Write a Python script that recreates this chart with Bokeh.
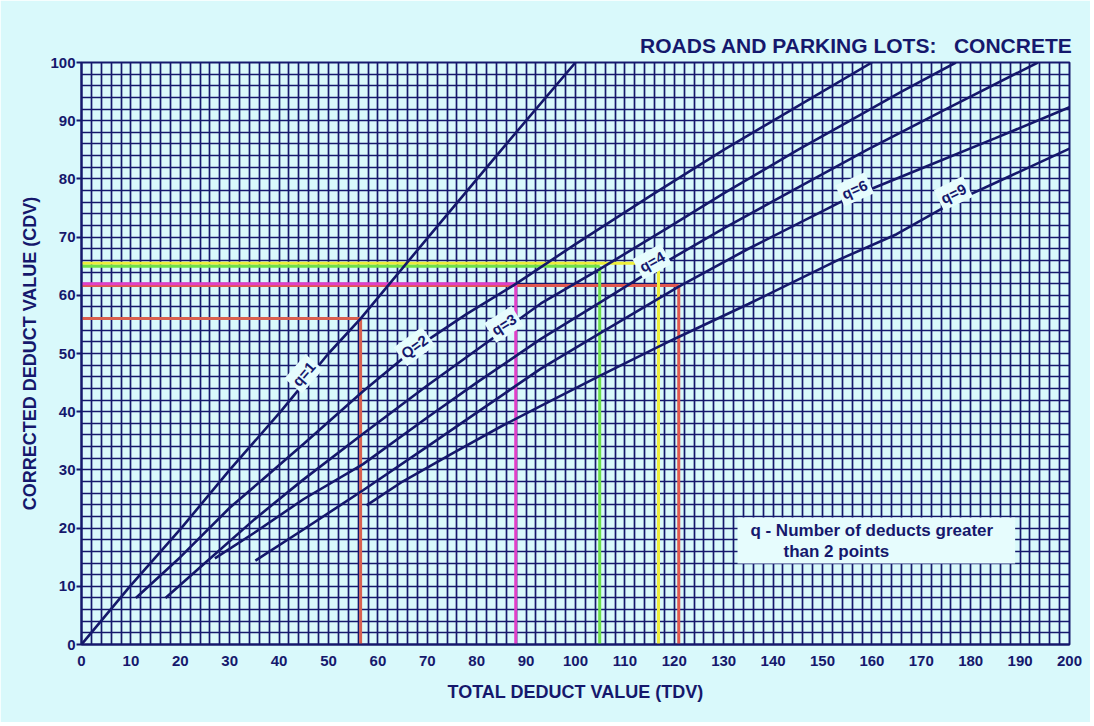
from bokeh.plotting import figure
from bokeh.models import FixedTicker, Range1d
from bokeh.core.properties import value
from bokeh.embed import file_html
from bokeh.resources import INLINE
import math

# ---- data ----
x_ticks = list(range(0, 201, 10))
y_ticks = list(range(0, 101, 10))

q1_tdv = [0, 9.8, 20.2, 30, 40.3, 50, 56.5, 70.2, 85, 100]
q1_cdv = [0, 10, 20, 30, 40, 50, 56, 70, 85, 100]

q2_tdv = [11, 20, 30, 36.6, 45, 57, 67.4, 78, 88, 100, 115, 130, 145, 160]
q2_cdv = [8, 15, 23.5, 28.3, 34.5, 43.5, 50.8, 56.8, 62, 68.8, 77, 85, 92.5, 100]

q3_tdv = [17, 25, 35, 44.7, 57, 70, 85.5, 93, 104.9, 118.5, 130, 145, 154.5, 166, 177]
q3_cdv = [8, 14, 21.5, 28.2, 36.2, 44.5, 54, 58.6, 64.5, 71.5, 77.5, 85, 89.5, 95, 100]

q4_tdv = [27, 35, 45, 57, 70, 80, 93, 105, 116.8, 130, 145, 159, 175, 193.6]
q4_cdv = [14.8, 19.2, 25, 31, 39, 45, 52.5, 58.8, 65, 71.5, 78.5, 85, 92, 100]

q6_tdv = [35.2, 45, 57, 70, 82, 93, 105, 120.9, 135, 155, 170, 185, 200]
q6_cdv = [14.4, 19.8, 26.5, 34, 41, 47.4, 53.5, 61.5, 68, 76.6, 81.8, 87, 92.3]

q9_tdv = [57.7, 65, 75, 85, 93, 105, 120, 135, 153, 165, 176.5, 188, 200]
q9_cdv = [23.9, 28, 32.8, 37.5, 41, 46.2, 52.5, 58.5, 66, 70.5, 76, 80.5, 85.2]

curve_labels = ["q=1", "Q=2", "q=3", "q=4", "q=6", "q=9"]
label_tdv = [45, 67.4, 85.5, 115.5, 156.5, 176.5]
label_cdv = [46.5, 51.2, 55, 65.8, 78.2, 77.5]
label_angle_deg = [49, 36, 32, 29, 24, 26]

# worked example: (TDV, CDV) read-offs
ex_tdv = [120.9, 116.8, 104.9, 87.9, 56.5]
ex_cdv = [61.7, 65.5, 65.0, 62.0, 56.0]
ex_colors = ["#e0584f", "#eeee3a", "#6ee04a", "#e040c8", "#d9604f"]

title_text = "ROADS AND PARKING LOTS:\u00a0\u00a0 CONCRETE"
xlabel = "TOTAL DEDUCT VALUE (TDV)"
ylabel = "CORRECTED DEDUCT VALUE (CDV)"
note_lines = ["q - Number of deducts greater", "than 2 points"]

# ---- styling ----
BG = "#d9f9fb"
BOX = "#e6fcfd"
NAVY = "#15186c"
FONT = "Liberation Sans"

p = figure(width=1090, height=722,
           x_range=Range1d(0, 200), y_range=Range1d(0, 100),
           output_backend="svg", toolbar_location=None,
           min_border_left=81, min_border_right=21,
           min_border_top=62, min_border_bottom=78,
           background_fill_color=BG, border_fill_color=BG,
           outline_line_color=NAVY, outline_line_width=2,
           title=title_text)

p.title.align = "right"
p.title.text_font = FONT
p.title.text_font_size = "21px"
p.title.text_font_style = "bold"
p.title.text_color = NAVY
p.title.standoff = 11
p.title.offset = -3

p.xgrid.ticker = FixedTicker(ticks=list(range(0, 201, 2)))
p.ygrid.ticker = FixedTicker(ticks=list(range(0, 101, 2)))
for g in (p.xgrid, p.ygrid):
    g.grid_line_color = NAVY
    g.grid_line_width = 1.7
    g.grid_line_alpha = 1.0

p.xaxis.ticker = FixedTicker(ticks=x_ticks)
p.yaxis.ticker = FixedTicker(ticks=y_ticks)
for ax in (p.xaxis, p.yaxis):
    ax.axis_line_color = NAVY
    ax.axis_line_width = 2
    ax.major_tick_line_color = NAVY
    ax.major_tick_line_width = 2
    ax.minor_tick_line_color = None
    ax.major_tick_in = 0
    ax.major_label_text_font = FONT
    ax.major_label_text_font_size = "15px"
    ax.major_label_text_font_style = "bold"
    ax.major_label_text_color = NAVY
    ax.axis_label_text_font = FONT
    ax.axis_label_text_font_size = "18px"
    ax.axis_label_text_font_style = "bold"
    ax.axis_label_text_color = NAVY
p.xaxis.major_tick_out = 0
p.xaxis.major_label_standoff = 11
p.xaxis.axis_label = xlabel
p.xaxis.axis_label_standoff = 13
p.yaxis.major_tick_out = 5
p.yaxis.major_label_standoff = 1
p.yaxis.axis_label = ylabel
p.yaxis.axis_label_standoff = 7

# worked example lines
zeros = [0] * len(ex_tdv)
p.segment(x0=zeros, y0=ex_cdv, x1=ex_tdv, y1=ex_cdv, line_color=ex_colors, line_width=3)
p.segment(x0=ex_tdv, y0=zeros, x1=ex_tdv, y1=ex_cdv, line_color=ex_colors, line_width=3)

# curves
for xs, ys in [(q1_tdv, q1_cdv), (q2_tdv, q2_cdv), (q3_tdv, q3_cdv),
               (q4_tdv, q4_cdv), (q6_tdv, q6_cdv), (q9_tdv, q9_cdv)]:
    p.line(xs, ys, line_color=NAVY, line_width=2.6)

# curve labels
p.text(x=label_tdv, y=label_cdv, text=curve_labels,
       angle=[math.radians(a) for a in label_angle_deg],
       text_align="center", text_baseline="middle",
       text_font=value(FONT), text_font_size="15px", text_font_style="bold",
       text_color=NAVY, background_fill_color=BOX, padding=3)

# note box
p.quad(left=[132.8], right=[189], bottom=[13.9], top=[21.8], fill_color=BOX, line_color=None)
p.text(x=[135.4, 142.1], y=[19.6, 16.0], text=note_lines,
       text_align="left", text_baseline="middle",
       text_font=value(FONT), text_font_size="17px", text_font_style="bold",
       text_color=NAVY)

open("out.html", "w").write(file_html(p, INLINE))
